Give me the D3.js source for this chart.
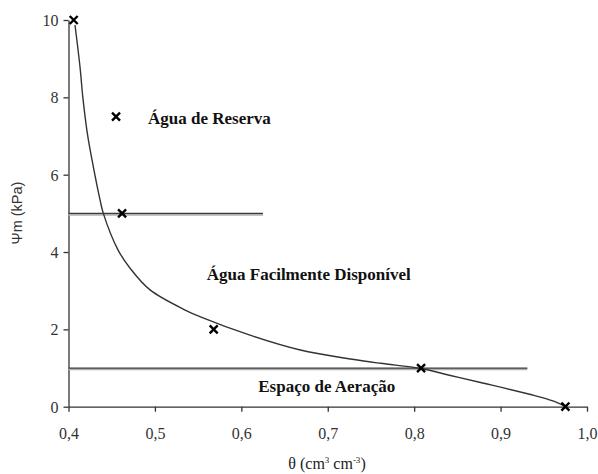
<!DOCTYPE html>
<html>
<head>
<meta charset="utf-8">
<script src="https://cdn.jsdelivr.net/npm/d3@7"></script>
<style>
	body { margin: 0; background: #fff; }
	svg text { font-family: 'Liberation Serif', serif; }
</style>
</head>
<body>
<script>
/* Data. */
const pointTheta = [0.406, 0.455, 0.462, 0.568, 0.808, 0.975];
const pointPsi = [10, 7.5, 5, 2, 1, 0];

const curveTheta = [0.4075, 0.4133, 0.4165, 0.4218, 0.4287, 0.4365, 0.4403, 0.4574, 0.4713, 0.4944,
	0.535, 0.552, 0.61, 0.6683, 0.7262, 0.761, 0.8081, 0.842, 0.8768, 0.9347, 0.9614, 0.9753];
const curvePsi = [9.87, 8.79, 8.02, 7.07, 6.21, 5.35, 5.0, 4.05, 3.58, 3.02,
	2.5, 2.33, 1.85, 1.466, 1.234, 1.122, 0.988, 0.807, 0.626, 0.315, 0.142, 0.0];

const limitPsi = [5, 1];
const limitEnd = [0.625, 0.931];

const xTicks = [0.4, 0.5, 0.6, 0.7, 0.8, 0.9, 1.0];
const yTicks = [0, 2, 4, 6, 8, 10];
const regionNames = ['Água de Reserva', 'Água Facilmente Disponível', 'Espaço de Aeração'];

const serif = 'Liberation Serif';

/**
 * Draws the retention curve chart.
 */
function main() {
	const svg = d3.select('body').append('svg')
		.attr('width', 598)
		.attr('height', 474);

	let x = d3.scaleLinear().domain([0.4, 1.0]).range([68.5, 587]);
	let y = d3.scaleLinear().domain([0, 10]).range([406.7, 20]);
	let fmt = function(d) { return d3.format('.1f')(d).replace('.', ','); };

	/* Axes. */
	let xAxis = svg.append('g')
		.attr('transform', 'translate(0,' + y(0) + ')')
		.call(d3.axisBottom(x).tickValues(xTicks).tickFormat(fmt).tickSize(5).tickSizeOuter(0));
	xAxis.selectAll('text').attr('dy', '1.55em');

	let yAxis = svg.append('g')
		.attr('transform', 'translate(' + x(0.4) + ',0)')
		.call(d3.axisLeft(y).tickValues(yTicks).tickSize(5).tickSizeOuter(0));
	yAxis.selectAll('text').attr('x', -10).attr('dy', '0.35em');

	svg.selectAll('g').attr('font-family', null);
	svg.selectAll('.tick text')
		.attr('font-family', serif)
		.attr('font-size', 16)
		.attr('fill', '#333');
	svg.selectAll('.domain, .tick line').attr('stroke', '#333').attr('stroke-width', 1.3);

	/* Limit lines. */
	let limits = svg.append('g');
	limits.selectAll('.shade')
			.data(limitPsi)
		.enter().append('line')
			.attr('x1', x(0.4))
			.attr('x2', function(_, i) { return x(limitEnd[i]); })
			.attr('y1', function(d) { return y(d) + 1.2; })
			.attr('y2', function(d) { return y(d) + 1.2; })
			.attr('stroke', '#b0b0b0')
			.attr('stroke-width', 2.2);
	limits.selectAll('.limit')
			.data(limitPsi)
		.enter().append('line')
			.attr('x1', x(0.4))
			.attr('x2', function(_, i) { return x(limitEnd[i]); })
			.attr('y1', function(d) { return y(d); })
			.attr('y2', function(d) { return y(d); })
			.attr('stroke', '#3a3a3a')
			.attr('stroke-width', 1.2);

	/* Fitted curve. */
	let line = d3.line()
		.x(function(d) { return x(d[0]); })
		.y(function(d) { return y(d[1]); })
		.curve(d3.curveCatmullRom.alpha(0.5));
	svg.append('path')
		.datum(d3.zip(curveTheta, curvePsi))
		.attr('d', line)
		.attr('fill', 'none')
		.attr('stroke', '#333')
		.attr('stroke-width', 1.4);

	/* Measured points as crosses. */
	let s = 4;
	svg.selectAll('.pt')
			.data(d3.zip(pointTheta, pointPsi))
		.enter().append('path')
			.attr('d', function(d) {
				let px = x(d[0]), py = y(d[1]);
				return 'M' + (px - s) + ',' + (py - s) + 'L' + (px + s) + ',' + (py + s) +
					'M' + (px - s) + ',' + (py + s) + 'L' + (px + s) + ',' + (py - s);
			})
			.attr('stroke', '#000')
			.attr('stroke-width', 2.4);

	/* Region labels. */
	let labelPos = [[0.492, 7.31], [0.56, 3.28], [0.6196, 0.38]];
	svg.selectAll('.region')
			.data(regionNames)
		.enter().append('text')
			.attr('class', 'region')
			.attr('x', function(_, i) { return x(labelPos[i][0]); })
			.attr('y', function(_, i) { return y(labelPos[i][1]); })
			.attr('font-family', serif)
			.attr('font-size', 17)
			.attr('font-weight', 'bold')
			.attr('fill', '#111')
			.text(function(d) { return d; });

	/* Axis titles. */
	let xTitle = svg.append('text')
		.attr('x', 327)
		.attr('y', 469)
		.attr('text-anchor', 'middle')
		.attr('font-family', serif)
		.attr('font-size', 16)
		.attr('fill', '#222');
	xTitle.append('tspan').text('θ (cm');
	xTitle.append('tspan').attr('dy', -6).attr('font-size', 9).text('3');
	xTitle.append('tspan').attr('dy', 6).text(' cm');
	xTitle.append('tspan').attr('dy', -6).attr('font-size', 9).text('-3');
	xTitle.append('tspan').attr('dy', 6).text(')');

	svg.append('text')
		.attr('transform', 'translate(22,213) rotate(-90)')
		.attr('text-anchor', 'middle')
		.style('font-family', 'Liberation Sans, Arial, sans-serif')
		.style('font-size', '14.5px')
		.attr('fill', '#333')
		.text('Ψm (kPa)');
}

window.onload = function() {
	main();
};
</script>
</body>
</html>
